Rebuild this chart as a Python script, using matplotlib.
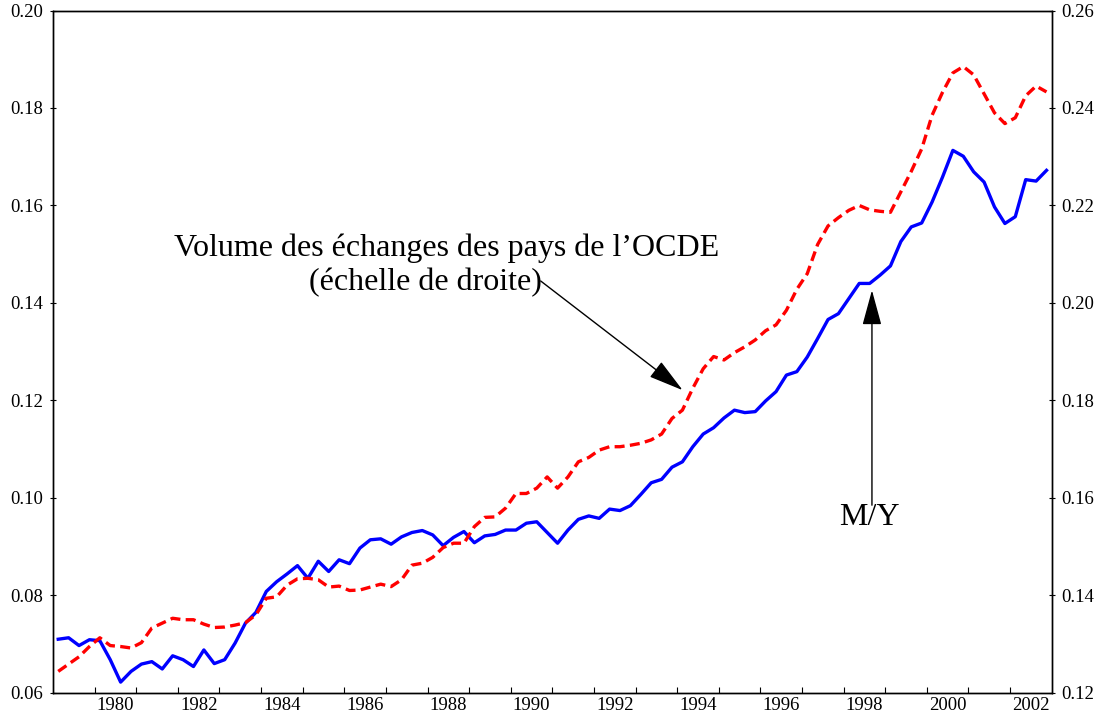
import numpy as np
import matplotlib
matplotlib.use("Agg")
import matplotlib.pyplot as plt

plt.rcParams['font.family'] = ['Liberation Serif', 'DejaVu Serif']

# quarterly data 1979Q1 - 2002Q4
start_year = 1979
n_quarters = 96

# M/Y (left scale)
m_y = [0.0710, 0.0713, 0.0697, 0.0709, 0.0707, 0.0668, 0.0622, 0.0644,
       0.0659, 0.0664, 0.0649, 0.0676, 0.0668, 0.0654, 0.0688, 0.0660,
       0.0668, 0.0702, 0.0743, 0.0765, 0.0808, 0.0828, 0.0844, 0.0861,
       0.0835, 0.0870, 0.0849, 0.0873, 0.0865, 0.0897, 0.0914, 0.0916,
       0.0905, 0.0920, 0.0929, 0.0933, 0.0924, 0.0902, 0.0919, 0.0931,
       0.0908, 0.0922, 0.0925, 0.0934, 0.0934, 0.0948, 0.0951, 0.0929,
       0.0907, 0.0934, 0.0956, 0.0963, 0.0958, 0.0977, 0.0974, 0.0984,
       0.1007, 0.1031, 0.1038, 0.1063, 0.1074, 0.1105, 0.1131, 0.1144,
       0.1164, 0.1180, 0.1175, 0.1177, 0.1199, 0.1218, 0.1252, 0.1259,
       0.1289, 0.1327, 0.1366, 0.1378, 0.1409, 0.1440, 0.1440, 0.1457,
       0.1476, 0.1526, 0.1556, 0.1564, 0.1607, 0.1658, 0.1713, 0.1701,
       0.1669, 0.1648, 0.1597, 0.1563, 0.1577, 0.1653, 0.1650, 0.1672]

# OECD trade volume (right scale)
trade = [0.1244, 0.1259, 0.1274, 0.1295, 0.1313, 0.1297, 0.1295, 0.1292,
         0.1303, 0.1333, 0.1343, 0.1353, 0.1350, 0.1350, 0.1341, 0.1334,
         0.1335, 0.1339, 0.1344, 0.1360, 0.1394, 0.1397, 0.1421, 0.1434,
         0.1435, 0.1432, 0.1417, 0.1419, 0.1410, 0.1411, 0.1417, 0.1423,
         0.1418, 0.1432, 0.1462, 0.1466, 0.1478, 0.1498, 0.1507, 0.1507,
         0.1541, 0.1560, 0.1561, 0.1579, 0.1609, 0.1609, 0.1620, 0.1643,
         0.1620, 0.1643, 0.1674, 0.1683, 0.1698, 0.1705, 0.1705, 0.1708,
         0.1712, 0.1719, 0.1731, 0.1763, 0.1780, 0.1825, 0.1865, 0.1890,
         0.1883, 0.1898, 0.1910, 0.1924, 0.1943, 0.1955, 0.1985, 0.2028,
         0.2060, 0.2120, 0.2158, 0.2175, 0.2190, 0.2200, 0.2191, 0.2188,
         0.2186, 0.2228, 0.2270, 0.2316, 0.2385, 0.2432, 0.2472, 0.2485,
         0.2468, 0.2429, 0.2390, 0.2368, 0.2380, 0.2425, 0.2445, 0.2433]

left_ticks = [0.06, 0.08, 0.10, 0.12, 0.14, 0.16, 0.18, 0.20]
right_ticks = [0.12, 0.14, 0.16, 0.18, 0.20, 0.22, 0.24, 0.26]
year_labels = list(range(1980, 2003, 2))

t = start_year + np.arange(n_quarters) / 4 + 0.125

fig = plt.figure(figsize=(11, 7.15), dpi=100)
ax = fig.add_axes([0.0482, 0.031, 0.9079, 0.9543])
ax2 = ax.twinx()

ax.plot(t, m_y, color='#0000ff', lw=2.4, zorder=3)
ax2.plot(t, trade, color='#ff0000', lw=2.4, dashes=(3.0, 1.6))

ax.set_xlim(1979, 2003)
ax.set_ylim(0.06, 0.20)
ax2.set_ylim(0.12, 0.26)
ax.set_yticks(left_ticks, ['%.2f' % v for v in left_ticks])
ax2.set_yticks(right_ticks, ['%.2f' % v for v in right_ticks])

ax.set_xticks(range(1980, 2003), [''] * 23)
ax.set_xticks([y + 0.5 for y in year_labels], [str(y) for y in year_labels], minor=True)
ax.tick_params(axis='x', which='major', direction='in', length=4, width=0.8)
ax.tick_params(axis='x', which='minor', length=0, pad=3, labelsize=13.5)
ax.tick_params(axis='y', direction='inout', length=4, width=0.8, labelsize=13.5, pad=5)
ax2.tick_params(axis='y', direction='inout', length=4, width=0.8, labelsize=13.5, pad=5)

for a in (ax, ax2):
    for s in a.spines.values():
        s.set_linewidth(1.0)

# annotations
ax.text(1988.45, 0.1512, "Volume des échanges des pays de l\u2019OCDE",
        ha='center', va='center', fontsize=23)
ax.text(1987.94, 0.1441, "(échelle de droite)", ha='center', va='center', fontsize=23)
ax.annotate('', xy=(1994.13, 0.1221), xytext=(1990.72, 0.1445),
            arrowprops=dict(arrowstyle='-|>,head_length=2.2,head_width=0.6',
                            mutation_scale=10, color='black', lw=1,
                            shrinkA=0, shrinkB=0))
ax.text(1998.62, 0.0959, "M/Y", ha='center', va='center', fontsize=23)
ax.annotate('', xy=(1998.68, 0.1426), xytext=(1998.68, 0.0985),
            arrowprops=dict(arrowstyle='-|>,head_length=2.2,head_width=0.6',
                            mutation_scale=10, color='black', lw=1,
                            shrinkA=0, shrinkB=0))

fig.savefig('out.png', dpi=100)
